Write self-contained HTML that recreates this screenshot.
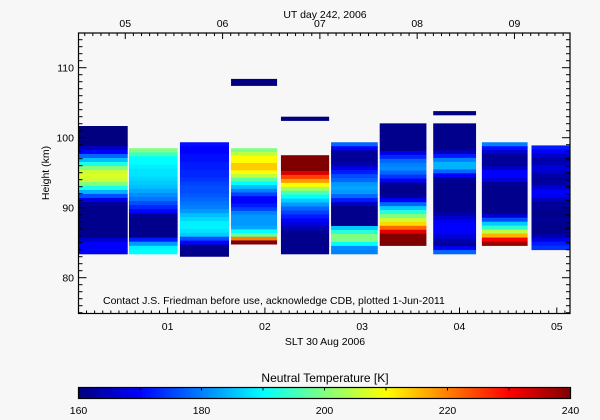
<!DOCTYPE html>
<html><head><meta charset="utf-8"><style>
html,body{margin:0;padding:0;background:#f7f7f7;}
svg{display:block;font-family:"Liberation Sans",sans-serif;}
text{font-size:10.5px;fill:#000;}
</style></head><body>
<svg id="chart" width="600" height="420" viewBox="0 0 600 420" xmlns="http://www.w3.org/2000/svg">
<rect width="600" height="420" fill="#f7f7f7"/>
<g id="cells"></g>
<g id="axes"></g>
<rect x="78.5" y="33" width="491.5" height="280.5" fill="none" stroke="#000" stroke-width="1.2"/>
<text x="325" y="18" text-anchor="middle">UT day 242, 2006</text>
<text x="325" y="345" text-anchor="middle">SLT 30 Aug 2006</text>
<text transform="translate(49,173) rotate(-90)" text-anchor="middle">Height (km)</text>
<text x="103" y="304">Contact J.S. Friedman before use, acknowledge CDB, plotted 1-Jun-2011</text>
<text x="325" y="382" text-anchor="middle" style="font-size:12px">Neutral Temperature [K]</text>
<g id="cbar"></g>
</svg>
<script>
// SLT hours: column start/end
const colStart = [-0.05, 0.603, 1.127, 1.652, 2.165, 2.68, 3.18, 3.73, 4.23, 4.74];
const colEnd   = [0.59, 1.103, 1.631, 2.125, 2.66, 3.16, 3.66, 4.17, 4.70, 5.2];
const colTop    = [101.67, 98.5, 99.35, 98.5, 97.5, 99.35, 102.05, 102.05, 99.35, 98.9];
const colBottom = [83.4, 83.4, 83.05, 84.8, 83.4, 83.4, 84.6, 83.4, 84.6, 84.0];
// temperature profiles (K), top to bottom
const profiles = [
 [160,160,160,160,160,165,170,178,185,192,200,206,207,206,200,192,184,176,168,162,161,161,161,161,161,161,161,161,166,170,170,169],
 [200,195,190,190,189,188,188,187,186,185,183,181,179,176,173,170,162,161,161,161,161,161,172,182,189,190],
 [171,170,170,171,171,172,172,173,173,174,175,176,176,177,178,179,180,182,185,187,189,189,188,186,176,170,161,161,161],
 [200,205,210,210,214,214,210,205,197,190,185,180,175,170,170,172,175,180,182,182,182,183,190,198,220,240],
 [240,240,240,240,233,225,218,210,203,196,190,186,182,178,175,172,170,167,164,162,161,161,161,161,161],
 [178,170,162,162,162,163,168,172,176,178,182,183,182,178,172,165,161,161,161,161,161,186,193,200,200,190,181,180],
 [161,161,161,161,161,161,161,168,173,178,180,181,178,174,169,162,161,161,162,170,178,186,193,200,206,213,222,232,240,240,240],
 [161,161,161,161,161,161,161,165,172,180,184,184,178,170,162,161,161,161,161,161,161,161,161,163,166,169,170,170,169,167,164,162,170,178],
 [180,171,166,162,162,162,165,170,170,167,162,161,161,161,161,161,161,161,166,176,186,194,205,216,230,238],
 [172,170,166,163,164,167,166,163,162,163,166,170,169,165,162,162,161,161,162,161,161,161,163,168,172,174]
];
// isolated single-bin measurements
const extraStart = [1.652, 2.165, 3.73];
const extraEnd   = [2.125, 2.66, 4.17];
const extraTop   = [108.4, 103.0, 103.8];
const extraBottom= [107.4, 102.4, 103.2];
const extraTemp  = [160, 160, 160];
const yTicks = [80, 90, 100, 110];
const sltTicks = [1, 2, 3, 4, 5];
const sltLabels = ["01","02","03","04","05"];
const utTicks = [5, 6, 7, 8, 9];
const utLabels = ["05","06","07","08","09"];
const cbTicks = [160, 180, 200, 220, 240];
const utOffset = 4.435;
const tMin = 160, tMax = 240;

const NS = "http://www.w3.org/2000/svg";
const X0 = 78.5, X1 = 570;
const xS = t => 70.3 + 97.3 * t;
const yS = h => 137.7 - (h - 100) * 7;
function jet(v){
  let t = Math.max(0, Math.min(1, (v - tMin) / (tMax - tMin)));
  const c = x => Math.round(255 * Math.max(0, Math.min(1, 1.5 - Math.abs(x))));
  return `rgb(${c(4*t-3)},${c(4*t-2)},${c(4*t-1)})`;
}
function mk(tag, attrs, parent){
  const e = document.createElementNS(NS, tag);
  for (const k in attrs) e.setAttribute(k, attrs[k]);
  parent.appendChild(e); return e;
}
const cells = document.getElementById('cells');
profiles.forEach((p, i) => {
  const xa = Math.max(X0, xS(colStart[i])), xb = Math.min(X1, xS(colEnd[i]));
  const dh = (colTop[i] - colBottom[i]) / p.length;
  p.forEach((v, j) => {
    const hTop = colTop[i] - j * dh;
    const ya = yS(hTop), yb = yS(hTop - dh);
    const r = mk('rect', {x: xa, y: ya, width: xb - xa, height: yb - ya + 0.4, fill: jet(v)}, cells);
    
    
  });
});
extraTemp.forEach((v, i) => {
  const r = mk('rect', {x: xS(extraStart[i]), y: yS(extraTop[i]), width: xS(extraEnd[i]) - xS(extraStart[i]), height: yS(extraBottom[i]) - yS(extraTop[i]), fill: jet(v)}, cells);
  
  
});
const ax = document.getElementById('axes');
function line(x1,y1,x2,y2,name){
  const l = mk('line', {x1,y1,x2,y2,stroke:'#000','stroke-width':1}, ax);
  
  
}
function txt(x,y,s,anchor,name,parent){
  const t = mk('text', {x,y,'text-anchor':anchor}, parent||ax);
  t.textContent = s;
  
  
}
for (let h = 75; h <= 115; h++){
  const y = yS(h); if (y < 33 || y > 313.5) continue;
  const L = (h % 10 === 0) ? 8 : 4;
  line(X0, y, X0 + L, y, 'y-tick');
  line(X1, y, X1 - L, y, 'y-tick-right');
}
yTicks.forEach(h => txt(74, yS(h) + 4, String(h), 'end', 'y-tick-label'));
for (let m = 0; m <= 5.2*12; m++){
  const t = m / 12, x = xS(t);
  if (x < X0 || x > X1) continue;
  const L = (m % 12 === 0) ? 6 : 3;
  line(x, 313.5, x, 313.5 - L, 'x-tick');
}
sltTicks.forEach((t, i) => txt(xS(t), 330, sltLabels[i], 'middle', 'x-tick-label'));
for (let m = 0; m <= 10*12; m++){
  const ut = m / 12, x = xS(ut - utOffset);
  if (x < X0 || x > X1) continue;
  const L = (m % 12 === 0) ? 6 : 3;
  line(x, 33, x, 33 + L, 'top-tick');
}
utTicks.forEach((u, i) => txt(xS(u - utOffset), 27, utLabels[i], 'middle', 'top-tick-label'));
const cb = document.getElementById('cbar');
const cbX0 = 78.5, cbX1 = 570.5, cbY = 387.5, cbH = 11;
const cbx = v => cbX0 + (v - tMin) / (tMax - tMin) * (cbX1 - cbX0);
for (let v = tMin; v < tMax; v += 0.5){
  const r = mk('rect', {x: cbx(v), y: cbY, width: cbx(v+0.5)-cbx(v)+0.3, height: cbH, fill: jet(v+0.25)}, cb);
  
  
}
const fr = mk('rect', {x: cbX0, y: cbY, width: cbX1-cbX0, height: cbH, fill:'none', stroke:'#000','stroke-width':1.2}, cb);


for (let v = tMin + 10; v < tMax; v += 10){
  const l = mk('line', {x1: cbx(v), y1: cbY, x2: cbx(v), y2: cbY + 3, stroke:'#000'}, cb);
  
  
}
cbTicks.forEach(v => txt(cbx(v), 414, String(v), 'middle', 'colorbar-tick-label', cb));
</script>
</body></html>
